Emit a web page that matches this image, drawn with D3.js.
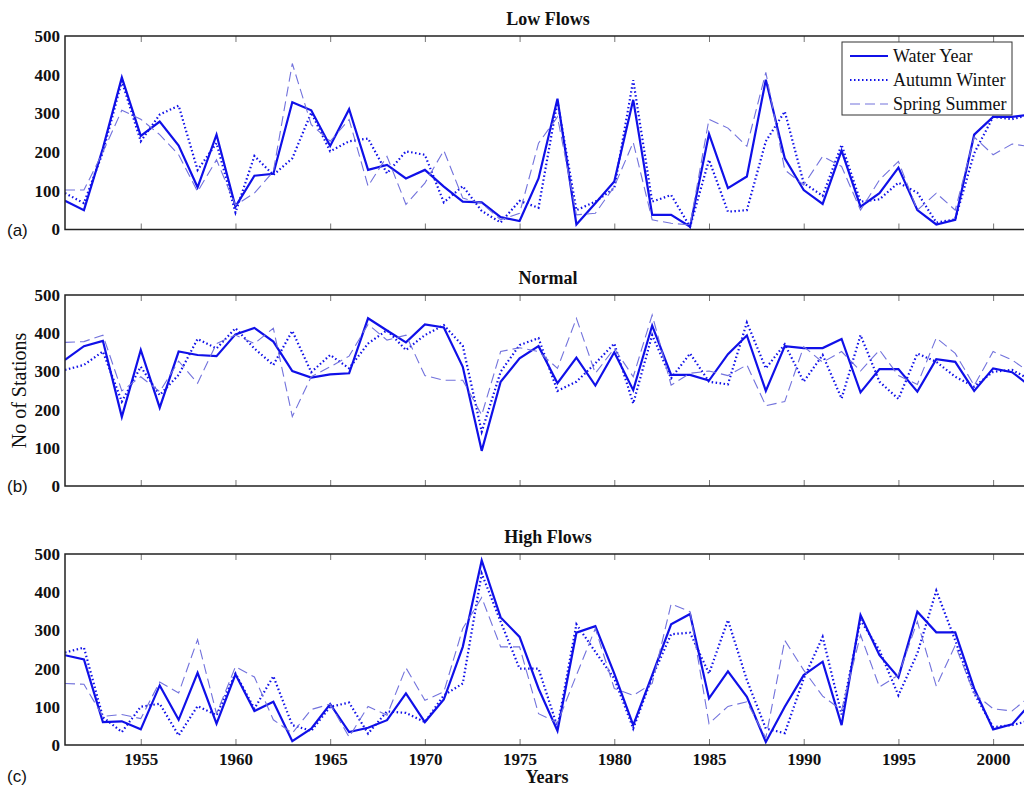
<!DOCTYPE html>
<html><head><meta charset="utf-8">
<script src="https://cdn.jsdelivr.net/npm/d3@7"></script>
<style>body{margin:0;background:#fff}svg{display:block}</style>
</head><body>
<script>
const years = d3.range(1951, 2003);
const seriesNames = ["Water Year", "Autumn Winter", "Spring Summer"];
const panelTitles = ["Low Flows", "Normal", "High Flows"];
const panelLetters = ["(a)", "(b)", "(c)"];
const yTicks = [0, 100, 200, 300, 400, 500];
const xTicks = [1955, 1960, 1965, 1970, 1975, 1980, 1985, 1990, 1995, 2000];

// Low Flows
const lowWater  = [74,50,210,393,242,279,217,109,245,59,139,144,329,308,216,311,154,167,132,154,111,72,70,32,22,132,338,13,68,124,335,38,38,7,247,107,137,387,184,102,66,204,59,94,160,50,13,25,245,291,291,297];
const lowAutumn = [94,68,200,383,228,297,320,154,223,44,190,141,184,302,202,228,235,145,202,193,70,112,48,18,74,56,331,50,72,107,386,72,89,7,180,46,50,228,305,120,87,219,72,78,121,95,18,26,197,291,285,297];
const lowSpring = [102,102,200,308,285,245,193,98,180,63,94,150,429,271,228,284,112,189,65,120,204,81,68,25,42,223,291,38,42,111,225,25,16,12,285,262,215,406,154,115,189,163,50,128,176,50,94,50,239,193,221,214];
// Normal
const normWater  = [330,366,380,181,356,205,352,343,340,397,414,378,301,284,292,295,439,407,376,423,415,312,92,273,334,366,269,336,263,350,251,420,291,291,276,345,394,249,366,361,361,385,245,306,306,247,332,325,249,308,298,260];
const normAutumn = [304,317,352,221,312,238,291,385,360,413,360,317,406,298,343,308,373,408,356,395,421,367,142,299,369,387,249,273,321,373,216,395,282,347,273,266,428,308,371,273,343,229,395,273,228,347,325,286,260,299,304,277];
const normSpring = [376,378,395,249,286,247,327,269,373,395,373,413,182,286,312,340,423,382,395,289,277,277,186,352,362,352,308,439,295,360,286,448,264,295,301,289,317,210,221,365,324,352,301,356,289,266,388,347,263,352,330,295];
// High Flows
const highWater  = [235,224,60,62,41,156,66,189,56,185,89,113,10,43,107,34,45,65,135,60,119,257,483,334,283,148,37,294,311,187,52,183,316,343,122,193,126,8,100,183,218,52,340,235,177,349,295,295,148,41,54,110];
const highAutumn = [242,255,73,34,100,108,25,102,78,187,95,180,52,37,100,111,30,88,84,60,130,161,449,323,200,200,47,316,244,174,43,178,290,294,187,327,170,43,31,174,283,80,327,248,130,240,404,274,135,47,52,65];
const highSpring = [161,159,75,80,69,165,136,276,82,205,178,66,31,93,107,21,101,78,202,117,139,305,386,257,257,82,58,183,305,148,130,161,369,349,56,101,113,19,274,196,128,91,288,152,183,323,154,261,135,95,89,130];

const panels = [
  {title: panelTitles[0], letter: panelLetters[0], data: [lowWater, lowAutumn, lowSpring], top: 36, bottom: 229.5},
  {title: panelTitles[1], letter: panelLetters[1], data: [normWater, normAutumn, normSpring], top: 295, bottom: 486},
  {title: panelTitles[2], letter: panelLetters[2], data: [highWater, highAutumn, highSpring], top: 554, bottom: 745}
];

const W = 1024, H = 786;
const left = 65, right = 1031;
const svg = d3.select("body").append("svg").attr("width", W).attr("height", H);

const x = d3.scaleLinear().domain([1951, 2002]).range([left, right]);
const styles = [
  {stroke: "#1010e8", width: 2.2, dash: null},
  {stroke: "#1010e8", width: 2.2, dash: "1.5,2.5"},
  {stroke: "#7272dc", width: 1.1, dash: "10,5"}
];
const serif = "'Liberation Serif','DejaVu Serif',serif";
const sans = "'Liberation Sans',Arial,sans-serif";

panels.forEach((p, pi) => {
  const y = d3.scaleLinear().domain([0, 500]).range([p.bottom, p.top]);
  const g = svg.append("g");
  const clipId = "clip" + pi;
  svg.append("clipPath").attr("id", clipId).append("rect")
    .attr("x", left).attr("y", p.top).attr("width", right - left).attr("height", p.bottom - p.top);

  const tickLen = 6;
  const axB = d3.axisTop(x).tickValues(xTicks).tickSize(tickLen).tickFormat("");
  g.append("g").attr("transform", `translate(0,${p.bottom})`).call(axB)
    .call(s => s.select(".domain").remove()).selectAll("line").attr("stroke", "#777");
  const axT = d3.axisBottom(x).tickValues(xTicks).tickSize(tickLen).tickFormat("");
  g.append("g").attr("transform", `translate(0,${p.top})`).call(axT)
    .call(s => s.select(".domain").remove()).selectAll("line").attr("stroke", "#777");
  const axR = d3.axisLeft(y).tickValues(yTicks.slice(1, -1)).tickSize(tickLen).tickFormat("");
  g.append("g").attr("transform", `translate(${right},0)`).call(axR)
    .call(s => s.select(".domain").remove()).selectAll("line").attr("stroke", "#777");

  const axL = d3.axisLeft(y).tickValues(yTicks).tickSize(0).tickPadding(5);
  const gl = g.append("g").attr("transform", `translate(${left},0)`).call(axL);
  gl.select(".domain").remove();
  gl.selectAll("text").attr("font-family", serif).attr("font-weight", "bold")
    .attr("font-size", 17).attr("fill", "#111");

  const lg = g.append("g").attr("clip-path", `url(#${clipId})`);
  p.data.forEach((vals, si) => {
    const line = d3.line().x((d, i) => x(years[i])).y(d => y(d));
    const st = styles[si];
    lg.append("path").datum(vals).attr("d", line).attr("fill", "none")
      .attr("stroke", st.stroke).attr("stroke-width", st.width)
      .attr("stroke-dasharray", st.dash).attr("stroke-linejoin", "miter");
  });

  g.append("rect").attr("x", left).attr("y", p.top).attr("width", right - left)
    .attr("height", p.bottom - p.top).attr("fill", "none").attr("stroke", "#222").attr("stroke-width", 1.5);

  svg.append("text").attr("x", 548).attr("y", p.top - 11).attr("text-anchor", "middle")
    .attr("font-family", serif).attr("font-weight", "bold").attr("font-size", 18).attr("fill", "#111")
    .text(p.title);

  svg.append("text").attr("x", 7).attr("y", pi === 2 ? 782 : p.bottom + 6)
    .attr("font-family", sans).attr("font-size", 17).attr("fill", "#111").text(p.letter);

  if (pi === 2) {
    const axX = d3.axisBottom(x).tickValues(xTicks).tickSize(0).tickPadding(8).tickFormat(d3.format("d"));
    const gx = g.append("g").attr("transform", `translate(0,${p.bottom})`).call(axX);
    gx.select(".domain").remove();
    gx.selectAll("text").attr("font-family", serif).attr("font-weight", "bold")
      .attr("font-size", 17).attr("fill", "#111");
    svg.append("text").attr("x", 547).attr("y", 783).attr("text-anchor", "middle")
      .attr("font-family", serif).attr("font-weight", "bold").attr("font-size", 18).attr("fill", "#111")
      .text("Years");
  }
  if (pi === 1) {
    svg.append("text").attr("transform", `translate(26,${(p.top + p.bottom) / 2}) rotate(-90)`)
      .attr("text-anchor", "middle").attr("font-family", serif).attr("font-size", 20).attr("fill", "#111")
      .text("No of Stations");
  }
  if (pi === 0) {
    const lx = 842, ly = 42, lw = 170, lh = 73;
    const leg = svg.append("g");
    leg.append("rect").attr("x", lx).attr("y", ly).attr("width", lw).attr("height", lh)
      .attr("fill", "#fff").attr("stroke", "#333").attr("stroke-width", 1);
    seriesNames.forEach((name, i) => {
      const yy = ly + 14 + i * 24;
      const st = styles[i];
      leg.append("line").attr("x1", lx + 8).attr("x2", lx + 46).attr("y1", yy).attr("y2", yy)
        .attr("stroke", st.stroke).attr("stroke-width", st.width).attr("stroke-dasharray", st.dash);
      leg.append("text").attr("x", lx + 51).attr("y", yy + 6).attr("font-family", serif)
        .attr("font-size", 18).attr("fill", "#111").text(name);
    });
  }
});
</script>
</body></html>
